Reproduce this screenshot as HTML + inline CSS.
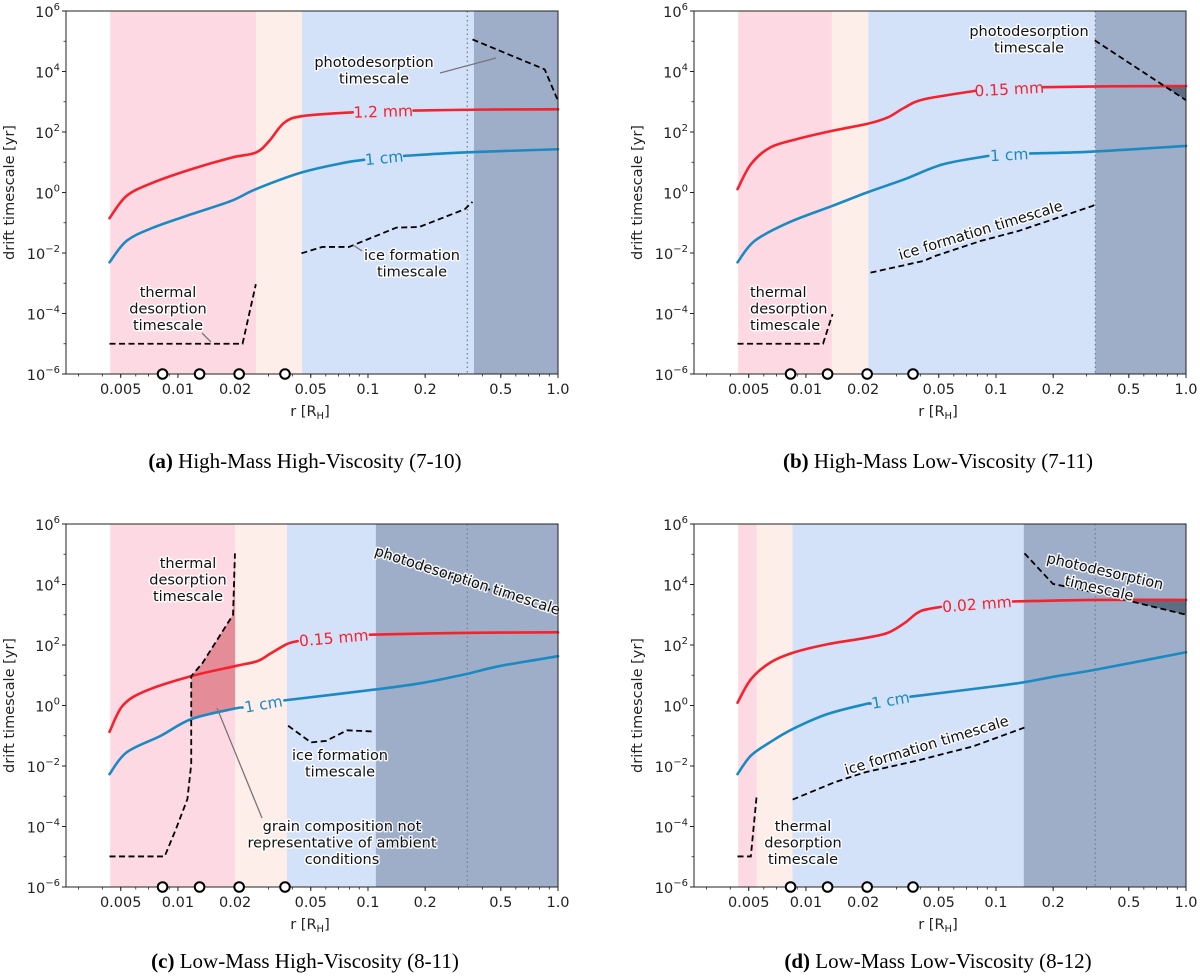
<!DOCTYPE html>
<html><head><meta charset="utf-8"><style>
body{margin:0;background:#fff;}
svg{display:block;font-family:"DejaVu Sans","Liberation Sans",sans-serif;}
.halo{paint-order:stroke;stroke:#fff;stroke-width:3px;stroke-opacity:0.85;stroke-linejoin:round;}
.cap{font-family:"Liberation Serif",serif;font-size:21px;fill:#000;}
</style></head><body>
<svg id="fig" width="1200" height="979" viewBox="0 0 1200 979" xmlns="http://www.w3.org/2000/svg">
<text class="cap" x="305" y="468" text-anchor="middle"><tspan font-weight="bold">(a)</tspan> High-Mass High-Viscosity (7-10)</text>
<text class="cap" x="938" y="468" text-anchor="middle"><tspan font-weight="bold">(b)</tspan> High-Mass Low-Viscosity (7-11)</text>
<text class="cap" x="305" y="968" text-anchor="middle"><tspan font-weight="bold">(c)</tspan> Low-Mass High-Viscosity (8-11)</text>
<text class="cap" x="938" y="968" text-anchor="middle"><tspan font-weight="bold">(d)</tspan> Low-Mass Low-Viscosity (8-12)</text>
</svg>
<script>
// ---- shared axis data ----
const xTickVals = [0.005, 0.01, 0.02, 0.05, 0.1, 0.2, 0.5, 1.0];
const xTickLabels = ["0.005", "0.01", "0.02", "0.05", "0.1", "0.2", "0.5", "1.0"];
const yTickExps = [6, 4, 2, 0, -2, -4, -6];
const yTickLabels = ["6", "4", "2", "0", "\u22122", "\u22124", "\u22126"];
const circleR = [0.0083, 0.013, 0.021, 0.0366];
const dottedR = 1/3;

// ---- panel (a) data: log10 r, log10 t ----
const aBands = [0.0044, 0.0258, 0.045, 0.361, 1.0];
const aRedLogR = [-2.36,-2.27,-2.13,-1.93,-1.72,-1.59,-1.52,-1.44,-1.34,-1.08,-0.76,-0.4,0];
const aRedLogT = [-0.85,-0.11,0.33,0.77,1.15,1.32,1.70,2.31,2.53,2.65,2.71,2.74,2.75];
const aBlueLogR = [-2.36,-2.27,-2.13,-1.93,-1.72,-1.59,-1.35,-1.12,-1.02,-0.81,-0.51,0];
const aBlueLogT = [-2.31,-1.6,-1.16,-0.72,-0.28,0.11,0.66,0.99,1.08,1.21,1.32,1.43];
const aThermLogR = [-2.36,-1.66,-1.59];
const aThermLogT = [-5,-5,-3.03];
const aIceLogR = [-1.35,-1.24,-1.10,-0.85,-0.73,-0.49,-0.45];
const aIceLogT = [-2.01,-1.8,-1.8,-1.16,-1.14,-0.55,-0.31];
const aPhotoLogR = [-0.45,-0.07,0];
const aPhotoLogT = [5.06,4.07,3.03];

// ---- panel (b) ----
const bBands = [0.0044, 0.0137, 0.0213, 0.333, 1.0];
const bRedLogR = [-2.36,-2.29,-2.19,-2.05,-1.86,-1.67,-1.57,-1.48,-1.38,-1.11,-0.75,-0.4,0];
const bRedLogT = [0.11,0.93,1.48,1.76,2.04,2.28,2.48,2.81,3.08,3.36,3.48,3.51,3.52];
const bBlueLogR = [-2.36,-2.27,-2.09,-1.86,-1.67,-1.48,-1.28,-1.04,-0.82,-0.5,0];
const bBlueLogT = [-2.31,-1.6,-0.99,-0.44,0.02,0.44,0.93,1.21,1.29,1.35,1.54];
const bThermLogR = [-2.36,-1.91,-1.86];
const bThermLogT = [-5,-5,-4.02];
const bIceLogR = [-1.66,-1.38,-1.32,-1.08,-0.88,-0.49,-0.48];
const bIceLogT = [-2.65,-2.26,-2.1,-1.6,-1.27,-0.44,-0.39];
const bPhotoLogR = [-0.48,0];
const bPhotoLogT = [5.03,3.05];

// ---- panel (c) ----
const cBands = [0.0044, 0.02, 0.0375, 0.11, 1.0];
const cRedLogR = [-2.36,-2.29,-2.17,-1.93,-1.70,-1.58,-1.52,-1.43,-1.37,-0.99,-0.51,0];
const cRedLogT = [-0.87,0,0.48,0.97,1.30,1.47,1.69,2.02,2.13,2.34,2.40,2.42];
const cBlueLogR = [-2.36,-2.27,-2.09,-1.93,-1.70,-1.66,-1.44,-0.96,-0.71,-0.49,-0.31,0];
const cBlueLogT = [-2.27,-1.55,-1.0,-0.45,-0.10,-0.07,0.17,0.53,0.75,1.03,1.30,1.63];
const cThermLogR = [-2.36,-2.07,-2.01,-1.95,-1.93,-1.93,-1.87,-1.71,-1.70];
const cThermLogT = [-4.99,-4.99,-4.08,-3.09,-1.94,0.97,1.41,3.0,5.03];
const cIceLogR = [-1.42,-1.30,-1.22,-1.11,-1.04,-0.97];
const cIceLogT = [-0.67,-1.22,-1.17,-0.82,-0.84,-0.86];
const cPhotoLogR = [-0.96,-0.51,0];
const cPhotoLogT = [5.03,4.16,3.04];

// ---- panel (d) ----
const dBands = [0.0044, 0.0055, 0.0085, 0.14, 1.0];
const dRedLogR = [-2.36,-2.29,-2.19,-2.07,-1.89,-1.69,-1.57,-1.48,-1.40,-1.29,-0.91,-0.47,0];
const dRedLogT = [0.09,0.86,1.41,1.74,2.02,2.23,2.40,2.73,3.11,3.26,3.44,3.49,3.49];
const dBlueLogR = [-2.36,-2.29,-2.19,-2.07,-1.89,-1.69,-1.66,-1.45,-1.0,-0.85,-0.68,-0.47,0];
const dBlueLogT = [-2.27,-1.66,-1.22,-0.78,-0.29,0.04,0.06,0.29,0.64,0.77,0.97,1.19,1.76];
const dThermLogR = [-2.36,-2.29,-2.26];
const dThermLogT = [-4.99,-4.99,-3.03];
const dIceLogR = [-2.07,-1.85,-1.69,-1.42,-1.12,-0.85];
const dIceLogT = [-3.11,-2.54,-2.21,-1.83,-1.35,-0.73];
const dPhotoLogR = [-0.85,-0.70,-0.47,0];
const dPhotoLogT = [5.03,4.02,3.72,3.0];

const NS = "http://www.w3.org/2000/svg";
const svg = document.getElementById("fig");
const LMIN = -2.589, LMAX = 0, W = 492, TOP = 11, H = 363;
const bandColors = ["#fdd9e3", "#fdeee9", "#d3e2f9", "#9eaec8"];

function mk(tag, attrs, parent) {
  const e = document.createElementNS(NS, tag);
  for (const k in attrs) e.setAttribute(k, attrs[k]);
  (parent || svg).appendChild(e);
  return e;
}

function panel(id, ox, oy, cfg) {
  const g = mk("g", {transform: `translate(${ox},${oy})`});
  
  
  const L = 66, R = L + W, B = TOP + H;
  const xs = lr => L + (lr - LMIN) / (LMAX - LMIN) * W;
  const ys = lt => TOP + (6 - lt) / 12 * H;
  const xr = r => xs(Math.log10(r));
  for (let i = 0; i < 4; i++) {
    const x0 = xr(cfg.bands[i]), x1 = xr(cfg.bands[i + 1]);
    const rc = mk("rect", {x: x0, y: TOP, width: x1 - x0, height: H, fill: bandColors[i]}, g);
    
    
  }
  const dl = mk("line", {x1: xr(dottedR), x2: xr(dottedR), y1: TOP, y2: B, stroke: "#7a8290", "stroke-width": 1.3, "stroke-dasharray": "1.5 3"}, g);
  
  

  const pts = (lr, lt) => lr.map((v, i) => [xs(v), ys(lt[i])]);
  function smooth(p) {
    let d = `M${p[0][0]},${p[0][1]}`;
    for (let i = 0; i < p.length - 1; i++) {
      const p0 = p[Math.max(0, i - 1)], p1 = p[i], p2 = p[i + 1], p3 = p[Math.min(p.length - 1, i + 2)];
      const c1 = [p1[0] + (p2[0] - p0[0]) / 6, p1[1] + (p2[1] - p0[1]) / 6];
      const c2 = [p2[0] - (p3[0] - p1[0]) / 6, p2[1] - (p3[1] - p1[1]) / 6];
      d += ` C${c1[0]},${c1[1]} ${c2[0]},${c2[1]} ${p2[0]},${p2[1]}`;
    }
    return d;
  }
  const poly = p => "M" + p.map(q => q.join(",")).join(" L");

  if (cfg.fill === "photo") {
    const cid = "clip" + id;
    const cp = mk("clipPath", {id: cid}, g);
    const ph = pts(cfg.photoR, cfg.photoT);
    mk("path", {d: poly(ph) + ` L${ph[ph.length-1][0]},${TOP} L${ph[0][0]},${TOP} Z`}, cp);
    const rp = pts(cfg.redR, cfg.redT);
    const f = mk("path", {d: smooth(rp) + ` L${rp[rp.length-1][0]},${B} L${rp[0][0]},${B} Z`, fill: "#5d6d83", "clip-path": `url(#${cid})`}, g);
    
    
  }
  if (cfg.fill === "thermal") {
    const cid = "clip" + id;
    const x0 = xs(-1.93), x1 = xr(cfg.bands[1]);
    const bp = pts(cfg.blueR, cfg.blueT);
    const tp = pts(cfg.thermR, cfg.thermT);
    const cp2 = mk("clipPath", {id: cid + "x"}, g);
    mk("rect", {x: x0, y: TOP, width: x1 - x0, height: H}, cp2);
    const cp3 = mk("clipPath", {id: cid + "t"}, g);
    mk("path", {d: poly(tp) + ` L${tp[tp.length-1][0]+40},${TOP-5} L${xs(0)},${TOP-5} L${xs(0)},${B} Z`}, cp3);
    const gg = mk("g", {"clip-path": `url(#${cid}x)`}, g);
    const g2 = mk("g", {"clip-path": `url(#${cid}t)`}, gg);
    const f2 = mk("path", {d: smooth(bp) + ` L${bp[bp.length-1][0]},${TOP} L${bp[0][0]},${TOP} Z`, fill: "#e48d98"}, g2);
    
    
  }

  function curve(lr, lt, gap, color, name, label) {
    const all = pts(lr, lt);
    const s1 = [], s2 = [];
    lr.forEach((v, i) => { if (v <= gap[0]) s1.push(all[i]); else if (v >= gap[1]) s2.push(all[i]); });
    [s1, s2].forEach(s => {
      if (s.length < 2) return;
      const p = mk("path", {d: smooth(s), fill: "none", stroke: color, "stroke-width": 2.6, "stroke-linecap": "round"}, g);
      
      
    });
    const a = s1[s1.length - 1], b = s2[0];
    const ang = Math.atan2(b[1] - a[1], b[0] - a[0]) * 180 / Math.PI;
    const cx = (a[0] + b[0]) / 2, cy = (a[1] + b[1]) / 2;
    const t = mk("text", {x: cx, y: cy + 5.5, "text-anchor": "middle", "font-size": 15.5, fill: color, transform: `rotate(${ang},${cx},${cy})`}, g);
    t.textContent = label;
    
    
  }
  curve(cfg.redR, cfg.redT, cfg.redGap, "#f5222e", "small-grain-curve", cfg.redLabel);
  curve(cfg.blueR, cfg.blueT, cfg.blueGap, "#1b8ac2", "cm-grain-curve", "1 cm");

  function dashed(lr, lt, name) {
    const p = mk("path", {d: poly(pts(lr, lt)), fill: "none", stroke: "#000", "stroke-width": 1.8, "stroke-dasharray": "6 3.5"}, g);
    
    
  }
  dashed(cfg.thermR, cfg.thermT, "thermal-desorption-line");
  dashed(cfg.iceR, cfg.iceT, "ice-formation-line");
  dashed(cfg.photoR, cfg.photoT, "photodesorption-line");

  (cfg.leaders || []).forEach(l => {
    const e = mk("line", {x1: l[0], y1: l[1], x2: l[2], y2: l[3], stroke: "#777", "stroke-width": 1.3}, g);
    
    
  });
  cfg.labels.forEach(l => {
    const t = mk("text", {x: l.x, y: l.y, "text-anchor": l.anchor || "middle", "font-size": 14.5, fill: "#111", class: "halo"}, g);
    if (l.rot) t.setAttribute("transform", `rotate(${l.rot},${l.x},${l.y})`);
    l.lines.forEach((s, i) => {
      const ts = mk("tspan", {x: l.x, dy: i === 0 ? 0 : 16.5}, t);
      ts.textContent = s;
    });
    
    
  });

  const fr = mk("rect", {x: L, y: TOP, width: W, height: H, fill: "none", stroke: "#222", "stroke-width": 1}, g);
  
  
  for (let dec = -3; dec <= 0; dec++) for (let m = 1; m <= 9; m++) {
    const v = m * Math.pow(10, dec);
    if (v > 1.0001 || Math.log10(v) < LMIN) continue;
    const x = xr(v);
    mk("line", {x1: x, x2: x, y1: B, y2: B + 2.5, stroke: "#222", "stroke-width": 0.8}, g);
  }
  xTickVals.forEach((v, i) => {
    const x = xr(v);
    mk("line", {x1: x, x2: x, y1: B, y2: B + 4, stroke: "#222", "stroke-width": 1}, g);
    const t = mk("text", {x: x, y: B + 20, "text-anchor": "middle", "font-size": 14.5, fill: "#222"}, g);
    t.textContent = xTickLabels[i];
    
    
  });
  yTickExps.forEach((e, i) => {
    const y = ys(e);
    mk("line", {x1: L - 4, x2: L, y1: y, y2: y, stroke: "#222", "stroke-width": 1}, g);
    const t = mk("text", {x: L - 6, y: y + 6, "text-anchor": "end", "font-size": 14.5, fill: "#222"}, g);
    const a = mk("tspan", {}, t); a.textContent = "10";
    const b = mk("tspan", {"font-size": 10, dy: -7}, t); b.textContent = yTickLabels[i];
    
    
  });
  for (let e = -5; e <= 5; e += 2) { const y = ys(e); mk("line", {x1: L - 2.5, x2: L, y1: y, y2: y, stroke: "#222", "stroke-width": 0.8}, g); }
  circleR.forEach(r => {
    const c = mk("circle", {cx: xr(r), cy: B, r: 4.8, fill: "#fff", stroke: "#000", "stroke-width": 2}, g);
    
    
  });
  const xt = mk("text", {x: L + W / 2 - 2, y: B + 42, "text-anchor": "middle", "font-size": 14.5, fill: "#222"}, g);
  xt.innerHTML = 'r [R<tspan font-size="10" dy="3">H</tspan><tspan dy="-3">]</tspan>';
  
  
  const yt = mk("text", {x: 14, y: TOP + H / 2, "text-anchor": "middle", "font-size": 14.5, fill: "#222", transform: `rotate(-90,14,${TOP + H / 2})`}, g);
  yt.textContent = "drift timescale [yr]";
  
  
}

panel("a", 0, 0, {bands: aBands, redR: aRedLogR, redT: aRedLogT, redGap: [-1.08, -0.76], redLabel: "1.2 mm",
  blueR: aBlueLogR, blueT: aBlueLogT, blueGap: [-1.02, -0.81], thermR: aThermLogR, thermT: aThermLogT,
  iceR: aIceLogR, iceT: aIceLogT, photoR: aPhotoLogR, photoT: aPhotoLogT,
  leaders: [[440, 73, 496, 58], [353, 245, 362, 251], [202, 333, 211, 342]],
  labels: [
    {x: 374, y: 67, lines: ["photodesorption", "timescale"], name: "photodesorption-label"},
    {x: 412, y: 260, lines: ["ice formation", "timescale"], name: "ice-formation-label"},
    {x: 168, y: 297, lines: ["thermal", "desorption", "timescale"], name: "thermal-desorption-label"}]});

panel("b", 628, 0, {bands: bBands, redR: bRedLogR, redT: bRedLogT, redGap: [-1.11, -0.75], redLabel: "0.15 mm",
  blueR: bBlueLogR, blueT: bBlueLogT, blueGap: [-1.04, -0.82], thermR: bThermLogR, thermT: bThermLogT,
  iceR: bIceLogR, iceT: bIceLogT, photoR: bPhotoLogR, photoT: bPhotoLogT, fill: "photo",
  labels: [
    {x: 401, y: 36, lines: ["photodesorption", "timescale"], name: "photodesorption-label"},
    {x: 354, y: 235, rot: -17, lines: ["ice formation timescale"], name: "ice-formation-label"},
    {x: 122, y: 297, anchor: "start", lines: ["thermal", "desorption", "timescale"], name: "thermal-desorption-label"}]});

panel("c", 0, 513, {bands: cBands, redR: cRedLogR, redT: cRedLogT, redGap: [-1.37, -0.99], redLabel: "0.15 mm",
  blueR: cBlueLogR, blueT: cBlueLogT, blueGap: [-1.66, -1.44], thermR: cThermLogR, thermT: cThermLogT,
  iceR: cIceLogR, iceT: cIceLogT, photoR: cPhotoLogR, photoT: cPhotoLogT, fill: "thermal",
  leaders: [[217, 195, 262, 305]],
  labels: [
    {x: 466, y: 72, rot: 18, lines: ["photodesorption timescale"], name: "photodesorption-label"},
    {x: 340, y: 247, lines: ["ice formation", "timescale"], name: "ice-formation-label"},
    {x: 188, y: 55, lines: ["thermal", "desorption", "timescale"], name: "thermal-desorption-label"},
    {x: 342, y: 318, lines: ["grain composition not", "representative of ambient", "conditions"], name: "grain-composition-label"}]});

panel("d", 628, 513, {bands: dBands, redR: dRedLogR, redT: dRedLogT, redGap: [-1.29, -0.91], redLabel: "0.02 mm",
  blueR: dBlueLogR, blueT: dBlueLogT, blueGap: [-1.66, -1.45], thermR: dThermLogR, thermT: dThermLogT,
  iceR: dIceLogR, iceT: dIceLogT, photoR: dPhotoLogR, photoT: dPhotoLogT, fill: "photo",
  labels: [
    {x: 476, y: 63, rot: 13, lines: ["photodesorption"], name: "photodesorption-label"},
    {x: 470, y: 80, rot: 13, lines: ["timescale"], name: "photodesorption-label-2"},
    {x: 300, y: 237, rot: -17, lines: ["ice formation timescale"], name: "ice-formation-label"},
    {x: 175, y: 318, lines: ["thermal", "desorption", "timescale"], name: "thermal-desorption-label"}]});
</script>
</body></html>
